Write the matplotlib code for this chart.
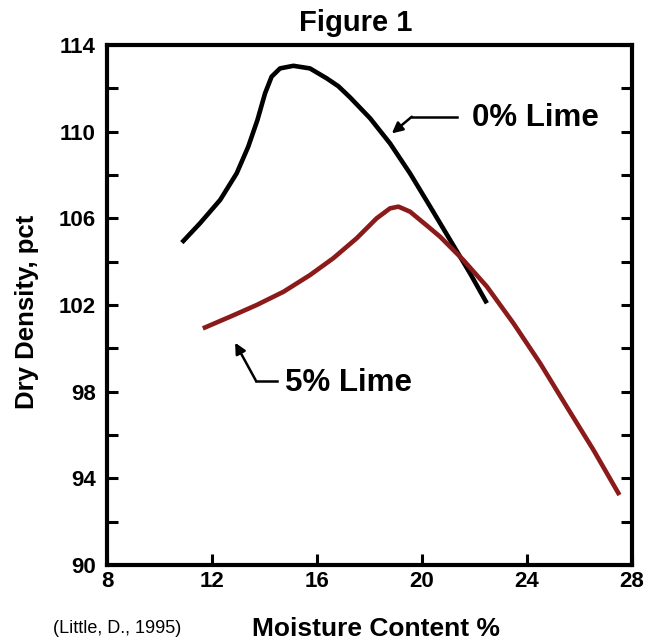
import matplotlib
matplotlib.use("Agg")
import matplotlib.pyplot as plt
from matplotlib.ticker import MultipleLocator, FixedLocator

plt.rcParams['font.family'] = ['Liberation Sans', 'DejaVu Sans']

# 0% lime curve (moisture %, dry density pct)
lime0_x = [10.85, 11.54, 12.31, 12.94, 13.38, 13.73, 14.02, 14.27, 14.59, 15.10,
           15.73, 16.37, 16.81, 17.26, 18.02, 18.78, 19.54, 20.31, 21.07, 21.83, 22.47]
lime0_y = [104.88, 105.77, 106.85, 108.08, 109.31, 110.54, 111.77, 112.54, 112.92,
           113.04, 112.92, 112.46, 112.1, 111.58, 110.62, 109.46, 108.08, 106.54,
           105.0, 103.46, 102.08]

# 5% lime curve
lime5_x = [11.65, 12.69, 13.70, 14.72, 15.73, 16.62, 17.51, 18.27, 18.78, 19.10,
           19.54, 20.24, 20.69, 21.57, 22.47, 23.48, 24.50, 25.51, 26.53, 27.52]
lime5_y = [100.92, 101.46, 102.0, 102.61, 103.38, 104.16, 105.08, 106.0, 106.46,
           106.54, 106.31, 105.61, 105.15, 104.08, 102.85, 101.16, 99.31, 97.31,
           95.31, 93.23]

x_labels = [8, 12, 16, 20, 24, 28]
y_labels = [90, 94, 98, 102, 106, 110, 114]

fig = plt.figure(figsize=(6.59, 6.43), dpi=100)
ax = fig.add_axes([0.1624, 0.1213, 0.7967, 0.8087])

ax.plot(lime0_x, lime0_y, color='black', lw=3.3, solid_capstyle='butt',
        solid_joinstyle='round')
ax.plot(lime5_x, lime5_y, color='#8b1a1a', lw=3.3, solid_capstyle='butt',
        solid_joinstyle='round')

ax.set_xlim(8, 28)
ax.set_ylim(90, 114)

for s in ax.spines.values():
    s.set_linewidth(3.0)

ax.xaxis.set_major_locator(FixedLocator(x_labels))
ax.yaxis.set_major_locator(FixedLocator(y_labels))
ax.yaxis.set_minor_locator(MultipleLocator(2))
ax.tick_params(axis='x', which='major', direction='in', length=8, width=2.2,
               top=False, bottom=True, pad=4, labelsize=16)
ax.tick_params(axis='y', which='both', direction='in', length=8, width=2.2,
               left=True, right=True, pad=8, labelsize=16)
for lab in ax.get_xticklabels() + ax.get_yticklabels():
    lab.set_fontweight('bold')

fig.text(0.540, 0.964, 'Figure 1', fontsize=21, fontweight='bold', ha='center', va='center')
fig.text(0.041, 0.515, 'Dry Density, pct', fontsize=18.5, fontweight='bold',
         rotation=90, ha='center', va='center')
fig.text(0.571, 0.003, 'Moisture Content %', fontsize=19, fontweight='bold',
         ha='center', va='bottom')
fig.text(0.178, 0.023, '(Little, D., 1995)', fontsize=13, ha='center', va='center')

# labels with bent arrows
ax.plot([19.61, 21.32], [110.69, 110.69], color='black', lw=1.8)
ax.annotate('', xy=(18.85, 109.92), xytext=(19.61, 110.69),
            arrowprops=dict(arrowstyle='-|>', color='black', lw=1.8, mutation_scale=16,
                            shrinkA=0, shrinkB=0))
ax.text(21.89, 110.62, '0% Lime', fontsize=22.5, fontweight='bold', va='center')

ax.plot([13.68, 14.49], [98.49, 98.49], color='black', lw=1.8)
ax.annotate('', xy=(12.88, 100.26), xytext=(13.68, 98.49),
            arrowprops=dict(arrowstyle='-|>', color='black', lw=1.8, mutation_scale=16,
                            shrinkA=0, shrinkB=0))
ax.text(14.78, 98.42, '5% Lime', fontsize=22.5, fontweight='bold', va='center')

fig.savefig('out.png', dpi=100)
